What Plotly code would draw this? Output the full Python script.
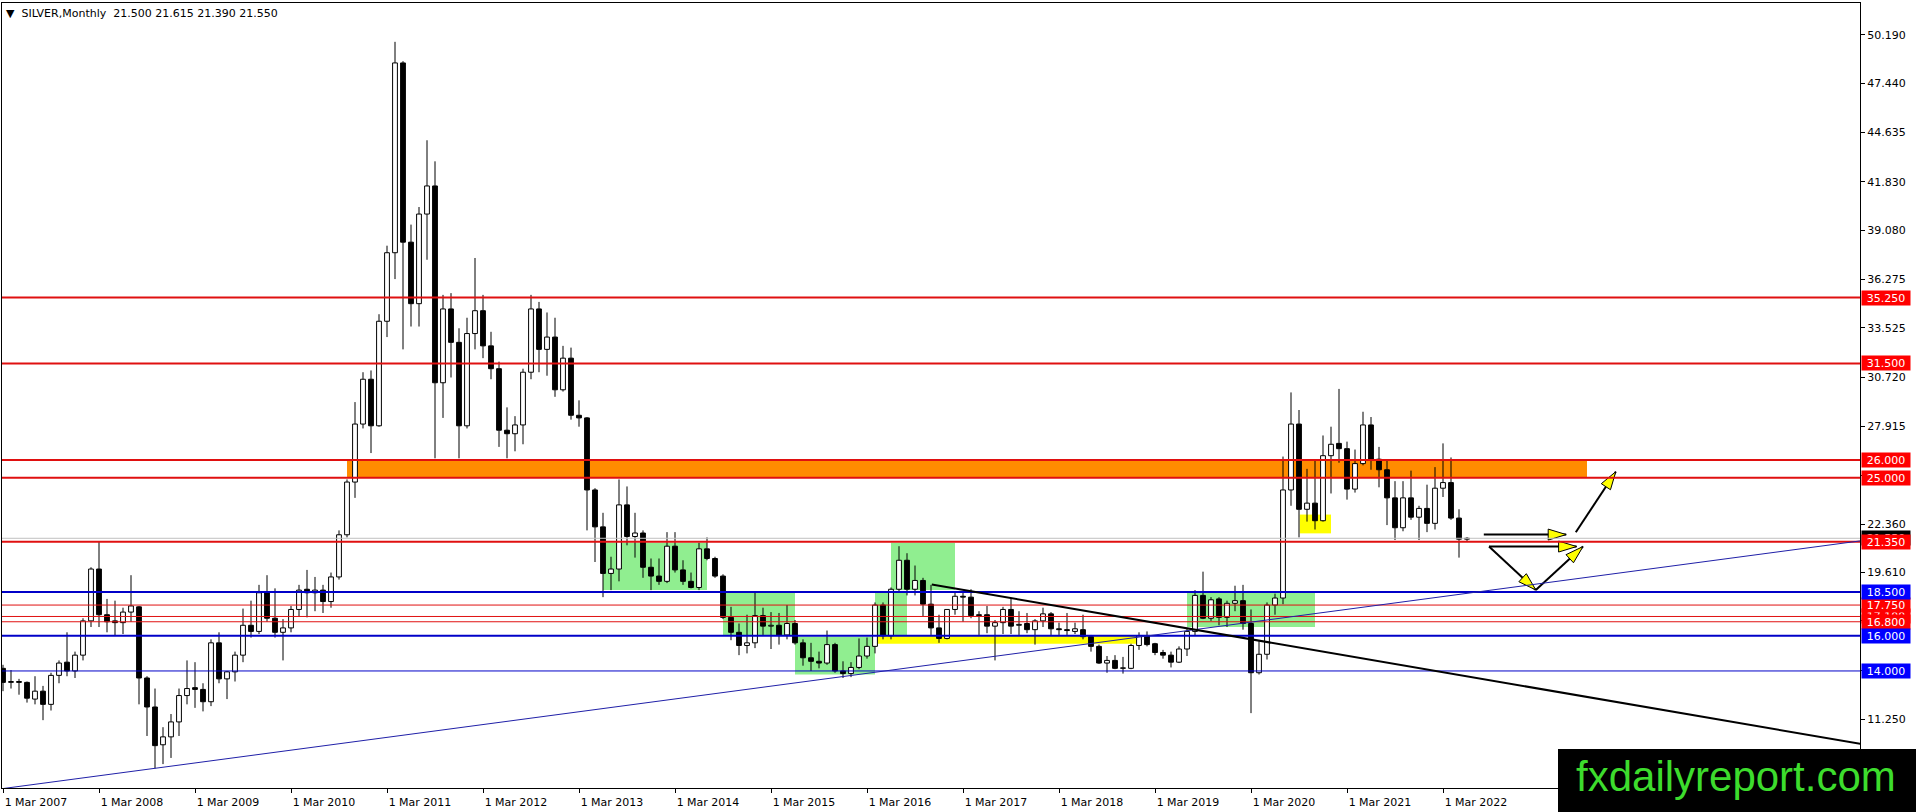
import numpy as np
import pandas as pd
import plotly.graph_objects as go

# ---------------- data: SILVER monthly, Mar 2007 .. Jun 2022 ----------------
start_month = "2007-03-01"
opens = [
    14.15, 13.35, 13.40, 13.35, 12.40, 12.85, 12.10, 13.75, 14.50, 14.00,
    14.90, 16.85, 19.80, 17.20, 16.85, 16.75, 17.35, 17.65, 13.60, 11.95, 9.80, 10.25,
    11.10, 12.60, 13.05, 12.95, 12.25, 15.60, 13.55, 13.95, 14.90, 16.60, 16.25, 18.45,
    17.00, 16.20, 16.45, 17.50, 18.65, 18.45, 18.60, 17.95, 19.35, 21.75, 24.75, 28.05,
    30.60, 27.95, 33.90, 37.80, 48.60, 38.40, 34.90, 40.00, 41.60, 30.40, 34.60, 32.70,
    27.95, 33.20, 34.50, 32.50, 31.20, 27.70, 27.50, 28.00, 31.00, 34.60, 32.30, 33.00,
    30.00, 31.80, 28.55, 28.40, 24.30, 22.20, 19.55, 19.80, 23.45, 21.65, 21.85, 19.90,
    19.40, 19.10, 21.10, 19.75, 19.10, 18.75, 20.95, 20.40, 19.40, 17.05, 16.20, 15.45,
    15.60, 17.15, 16.55, 16.60, 16.05, 16.70, 15.60, 14.75, 14.55, 14.45, 15.50, 14.00,
    13.85, 14.20, 14.85, 15.40, 17.75, 16.00, 18.65, 20.30, 18.65, 19.15, 17.80, 16.45,
    15.85, 17.50, 18.25, 18.20, 17.20, 17.20, 16.55, 16.75, 17.50, 16.60, 16.70, 16.35,
    16.85, 17.25, 16.40, 16.35, 16.25, 16.35, 15.95, 15.40, 14.45, 14.60, 14.15, 14.15,
    15.45, 16.00, 15.55, 15.05, 14.90, 14.50, 15.25, 16.25, 18.30, 17.00, 18.10, 17.05,
    17.85, 18.00, 16.70, 13.90, 14.95, 17.75, 18.15, 24.30, 28.05, 23.20, 23.55, 22.55,
    26.25, 26.95, 26.65, 24.35, 25.80, 28.00, 26.05, 25.45, 23.85, 22.15, 23.85, 22.75,
    23.25, 22.40, 24.40, 24.72, 22.70, 21.50,
]
highs = [
    14.35, 14.05, 13.55, 13.40, 13.70, 13.15, 13.90, 14.60, 16.20, 15.10,
    17.00, 19.90, 21.35, 18.10, 18.00, 17.60, 19.45, 17.70, 13.70, 13.00, 10.80, 11.55,
    13.00, 14.60, 14.50, 13.30, 15.80, 16.20, 14.00, 15.10, 17.55, 18.00, 18.90, 19.45,
    18.70, 16.95, 17.70, 18.90, 19.75, 19.35, 18.90, 19.60, 22.00, 24.90, 29.30, 31.00,
    31.10, 34.30, 38.20, 49.80, 48.70, 39.40, 40.40, 44.20, 43.00, 35.40, 35.50, 33.50,
    34.10, 37.50, 35.40, 33.30, 31.60, 29.00, 28.50, 31.20, 35.40, 35.00, 34.40, 34.10,
    32.50, 32.40, 29.40, 28.45, 24.40, 23.00, 20.50, 24.90, 24.50, 23.00, 22.00, 20.40,
    20.40, 21.90, 21.90, 20.30, 19.60, 21.30, 21.60, 20.50, 19.50, 17.65, 16.70, 17.20,
    18.45, 17.60, 17.35, 17.30, 17.75, 16.90, 15.80, 15.60, 15.10, 16.30, 15.60, 14.55,
    14.50, 15.85, 15.90, 17.90, 17.90, 18.75, 21.10, 20.70, 20.00, 19.30, 18.90, 17.20,
    17.50, 18.50, 18.45, 18.65, 17.40, 17.70, 16.90, 17.65, 18.15, 17.40, 17.30, 16.95,
    17.60, 17.35, 16.75, 17.30, 16.75, 17.20, 16.05, 15.50, 14.85, 14.90, 14.80, 15.55,
    16.20, 16.25, 15.60, 15.20, 15.10, 15.40, 16.45, 18.60, 19.65, 18.20, 18.20, 18.00,
    18.85, 18.90, 17.50, 15.70, 17.90, 18.40, 26.20, 29.85, 28.85, 25.50, 26.00, 27.40,
    27.90, 30.05, 27.05, 26.60, 28.75, 28.45, 26.75, 26.00, 24.80, 24.80, 25.40, 23.40,
    24.60, 25.60, 26.95, 26.15, 23.20, 21.615,
]
lows = [
    12.85, 13.00, 12.65, 12.20, 12.10, 11.20, 11.75, 13.30, 13.70, 13.60,
    14.60, 16.50, 16.50, 16.20, 16.00, 16.10, 16.80, 12.10, 10.30, 8.45, 8.70, 9.05,
    10.30, 12.10, 11.90, 11.70, 12.00, 13.30, 12.40, 13.40, 14.50, 15.90, 16.10, 16.80,
    15.90, 14.60, 16.20, 17.10, 17.05, 17.40, 17.30, 17.60, 19.20, 21.60, 23.85, 27.80,
    26.40, 27.90, 33.00, 36.30, 32.30, 33.60, 33.60, 37.40, 26.10, 28.40, 30.70, 26.10,
    27.80, 32.30, 31.80, 30.60, 26.75, 26.10, 26.50, 26.90, 30.60, 31.00, 30.80, 29.60,
    29.90, 28.30, 27.90, 22.00, 20.20, 18.20, 18.60, 19.10, 21.15, 20.45, 19.30, 18.60,
    18.90, 19.00, 19.60, 18.90, 18.70, 18.60, 20.30, 19.30, 16.95, 15.75, 14.90, 15.00,
    15.30, 16.05, 15.25, 15.50, 15.80, 15.50, 14.30, 14.00, 14.15, 14.35, 13.90, 13.60,
    13.65, 14.10, 14.70, 15.00, 15.80, 15.80, 18.50, 18.30, 18.30, 17.10, 16.05, 15.60,
    15.80, 17.20, 16.80, 17.00, 16.05, 16.15, 14.60, 16.10, 16.10, 16.05, 16.15, 15.50,
    16.50, 16.05, 16.05, 16.05, 16.10, 15.80, 15.10, 14.40, 13.90, 14.10, 13.85, 14.10,
    15.20, 15.40, 14.90, 14.70, 14.20, 14.45, 14.85, 16.00, 16.95, 16.85, 16.60, 16.50,
    17.40, 16.35, 11.60, 13.80, 14.65, 17.20, 17.80, 23.40, 21.60, 22.50, 22.05, 22.50,
    24.10, 25.85, 23.75, 24.15, 25.70, 25.45, 24.45, 22.30, 21.45, 21.95, 22.60, 21.45,
    21.90, 22.05, 23.90, 22.60, 20.45, 21.39,
]
closes = [
    13.35, 13.40, 13.35, 12.45, 12.85, 12.10, 13.75, 14.45, 14.00, 14.90,
    16.85, 19.80, 17.20, 16.80, 16.75, 17.35, 17.70, 13.60, 11.95, 9.75, 10.25, 11.10,
    12.60, 13.00, 12.95, 12.25, 15.60, 13.55, 13.95, 14.90, 16.60, 16.25, 18.45, 17.00,
    16.20, 16.45, 17.50, 18.60, 18.45, 18.60, 17.95, 19.35, 21.75, 24.75, 28.05, 30.60,
    27.95, 33.90, 37.80, 48.60, 38.40, 34.90, 40.00, 41.60, 30.40, 34.60, 32.70, 27.95,
    33.20, 34.50, 32.50, 31.20, 27.70, 27.50, 28.00, 31.00, 34.60, 32.30, 33.00, 30.00,
    31.80, 28.55, 28.40, 24.30, 22.20, 19.55, 19.80, 23.45, 21.65, 21.85, 19.90, 19.40,
    19.10, 21.10, 19.75, 19.10, 18.75, 20.95, 20.40, 19.40, 17.05, 16.20, 15.45, 15.60,
    17.15, 16.55, 16.60, 16.05, 16.70, 15.60, 14.75, 14.55, 14.45, 15.50, 14.00, 13.85,
    14.20, 14.85, 15.40, 17.75, 16.00, 18.65, 20.30, 18.65, 19.15, 17.80, 16.45, 15.85,
    17.50, 18.25, 18.20, 17.15, 17.15, 16.55, 16.75, 17.50, 16.55, 16.65, 16.35, 16.85,
    17.25, 16.40, 16.35, 16.30, 16.40, 15.95, 15.40, 14.45, 14.60, 14.15, 14.18, 15.45,
    16.00, 15.50, 15.05, 14.90, 14.50, 15.25, 16.25, 18.30, 17.00, 18.05, 17.05, 17.85,
    18.00, 16.70, 13.90, 14.95, 17.75, 18.15, 24.30, 28.05, 23.20, 23.55, 22.55, 26.25,
    26.90, 26.65, 24.35, 25.80, 28.00, 26.05, 25.45, 23.85, 22.15, 23.85, 22.75, 23.25,
    22.40, 24.40, 24.72, 22.70, 21.50, 21.55,
]

# price-axis tick values
price_ticks = [50.19, 47.44, 44.635, 41.83, 39.08, 36.275, 33.525, 30.72,
               27.915, 25.11, 22.36, 19.61, 16.855, 14.05, 11.25]

# horizontal levels: price, line colour, line width, label colour
level_prices = [35.25, 31.50, 26.00, 25.00, 21.35, 17.10, 17.75, 16.80, 18.50, 16.00, 14.00]
level_colors = ["#e01010"] * 8 + ["#0000c8", "#0000c8", "#0000c8"]
level_widths = [2, 2, 2, 2, 2, 1, 1, 1, 2, 2, 1]
level_label_bg = ["#ff0000"] * 8 + ["#0000ff"] * 3
current_price = 21.55

# zones: (month index from, month index to, price low, price high)
green_zones = [(75, 88, 18.60, 21.30), (90, 99, 16.05, 18.45), (99, 109, 13.80, 15.95),
               (109, 113, 16.05, 18.45), (111, 119, 18.60, 21.30), (148, 164, 16.50, 18.45)]
yellow_zones = [(109.3, 141.7, 15.55, 16.00), (162.1, 166.0, 21.83, 22.90)]
orange_zones = [(43.0, 198.0, 25.00, 26.00)]

# trend lines (month index, price)
blue_trend = [(-0.125, 7.30), (232.125, 21.40)]
black_trend = [(116.1, 18.92), (232.2, 9.85)]

# projection arrows (month index, price) start -> end
arrows = [((185.1, 21.76), (195.4, 21.76)),
          ((185.75, 21.08), (196.7, 21.08)),
          ((185.75, 21.08), (191.6, 18.61)),
          ((191.6, 18.61), (197.5, 21.08)),
          ((196.6, 21.89), (201.6, 25.34))]

# ---------------- geometry ----------------
W, H = 1916, 812
ML, MR, MT, MB = 2, 56, 3, 24
X_RANGE = [-0.125, 232.125]
Y_RANGE = [7.34, 52.01]
PXM = (W - ML - MR) / (X_RANGE[1] - X_RANGE[0])
PXU = (H - MT - MB) / (Y_RANGE[1] - Y_RANGE[0])

months = pd.date_range(start_month, periods=len(opens), freq="MS")
idx = np.arange(len(opens))
o = np.array(opens); h = np.array(highs); l = np.array(lows); c = np.array(closes)
body_lo = np.minimum(o, c)
body_hi = np.maximum(o, c)
bull = c >= o

fig = go.Figure()

# wicks (split so they do not cross the hollow bodies)
wx, wy = [], []
for i in idx:
    wx += [i, i, None, i, i, None]
    wy += [l[i], body_lo[i], None, body_hi[i], h[i], None]
fig.add_trace(go.Scatter(x=wx, y=wy, mode="lines", line=dict(color="black", width=1),
                         hoverinfo="skip", showlegend=False))
fig.add_trace(go.Bar(x=idx, y=body_hi - body_lo, base=body_lo, width=0.6,
                     marker=dict(color=["white" if b else "black" for b in bull],
                                 line=dict(color="black", width=1)),
                     showlegend=False))

# arrows
def head(p0, p1, L=18, Wd=5.5):
    x0, y0 = p0[0] * PXM, p0[1] * PXU
    x1, y1 = p1[0] * PXM, p1[1] * PXU
    dx, dy = x1 - x0, y1 - y0
    n = np.hypot(dx, dy)
    ux, uy = dx / n, dy / n
    bx, by = x1 - L * ux, y1 - L * uy
    pts = [(x1, y1), (bx - Wd * uy, by + Wd * ux), (bx + Wd * uy, by - Wd * ux), (x1, y1)]
    return [p[0] / PXM for p in pts], [p[1] / PXU for p in pts]

for p0, p1 in arrows:
    fig.add_trace(go.Scatter(x=[p0[0], p1[0]], y=[p0[1], p1[1]], mode="lines",
                             line=dict(color="black", width=2), hoverinfo="skip", showlegend=False))
for p0, p1 in arrows:
    hx, hy = head(p0, p1)
    fig.add_trace(go.Scatter(x=hx, y=hy, mode="lines", fill="toself", fillcolor="#ffff00",
                             line=dict(color="black", width=1), hoverinfo="skip", showlegend=False))

shapes = []
for (x0, x1, y0, y1), col in ([(z, "#90ee90") for z in green_zones] +
                              [(z, "#ffff00") for z in yellow_zones] +
                              [(z, "#ff8c00") for z in orange_zones]):
    shapes.append(dict(type="rect", xref="x", yref="y", x0=x0, x1=x1, y0=y0, y1=y1,
                       fillcolor=col, line=dict(width=0), layer="below"))

shapes.append(dict(type="line", xref="paper", yref="y", x0=0, x1=1, y0=current_price, y1=current_price,
                   line=dict(color="#c0c0c0", width=1)))
for p, col, wdt in zip(level_prices, level_colors, level_widths):
    shapes.append(dict(type="line", xref="paper", yref="y", x0=0, x1=1, y0=p, y1=p,
                       line=dict(color=col, width=wdt)))
for tl, col, wdt in [(blue_trend, "#2020a8", 1), (black_trend, "black", 2)]:
    shapes.append(dict(type="line", xref="x", yref="y", x0=tl[0][0], y0=tl[0][1],
                       x1=tl[1][0], y1=tl[1][1], line=dict(color=col, width=wdt)))

# watermark box
shapes.append(dict(type="rect", xref="paper", yref="paper",
                   x0=(1558 - ML) / (W - ML - MR), x1=1.05,
                   y0=-0.05, y1=(H - MB - 749) / (H - MT - MB),
                   fillcolor="black", line=dict(width=0), layer="above"))

annotations = []
# current price label
annotations.append(dict(xref="paper", yref="y", x=1, y=current_price, xanchor="left", yanchor="middle",
                        xshift=1, text=f"{current_price:.3f}", showarrow=False, width=48, height=14,
                        borderpad=0, bgcolor="black", font=dict(color="white", size=11, family="DejaVu Sans")))
for p, bg in zip(level_prices, level_label_bg):
    annotations.append(dict(xref="paper", yref="y", x=1, y=p, xanchor="left", yanchor="middle",
                            xshift=1, text=f"{p:.3f}", showarrow=False, width=48, height=14,
                            borderpad=0, bgcolor=bg,
                            font=dict(color="white", size=11, family="DejaVu Sans")))
# title
annotations.append(dict(xref="paper", yref="paper", x=0, y=1, xanchor="left", yanchor="top",
                        xshift=2, yshift=-2, showarrow=False,
                        text="▼\u00a0\u00a0SILVER,Monthly\u00a0\u00a0"
                             f"{opens[-1]:.3f} {highs[-1]:.3f} {lows[-1]:.3f} {closes[-1]:.3f}",
                        font=dict(color="black", size=11, family="DejaVu Sans")))
# watermark text
annotations.append(dict(xref="paper", yref="paper", x=(1736 - ML) / (W - ML - MR),
                        y=(H - MB - 776) / (H - MT - MB), xanchor="center", yanchor="middle",
                        showarrow=False, text="fxdailyreport.com",
                        font=dict(color="#3ddc2d", size=42, family="Liberation Sans")))

tick_idx = [i for i, m in enumerate(months) if m.month == 3]
tick_txt = [f"1 Mar {months[i].year}" for i in tick_idx]

fig.update_layout(
    width=W, height=H, autosize=False,
    margin=dict(l=ML, r=MR, t=MT, b=MB, pad=0),
    paper_bgcolor="white", plot_bgcolor="white",
    showlegend=False, barmode="overlay",
    font=dict(family="DejaVu Sans", size=11, color="black"),
    shapes=shapes, annotations=annotations,
    xaxis=dict(range=X_RANGE, tickmode="array", tickvals=tick_idx, ticktext=tick_txt,
               ticks="outside", ticklen=4, tickcolor="black", showline=True, linecolor="black",
               linewidth=1, mirror=True, showgrid=False, zeroline=False, ticklabelshift=33,
               tickfont=dict(size=11, family="DejaVu Sans", color="black")),
    yaxis=dict(side="right", range=Y_RANGE, tickmode="array", tickvals=price_ticks,
               ticktext=[f"{v:.3f}" for v in price_ticks], ticks="outside", ticklen=4,
               tickcolor="black", showline=True, linecolor="black", linewidth=1, mirror=True,
               showgrid=False, zeroline=False,
               tickfont=dict(size=11, family="DejaVu Sans", color="black")),
)

fig.write_html("out.html", config={"displayModeBar": False},
               post_script="document.body.style.margin='0';document.body.style.overflow='hidden';")
